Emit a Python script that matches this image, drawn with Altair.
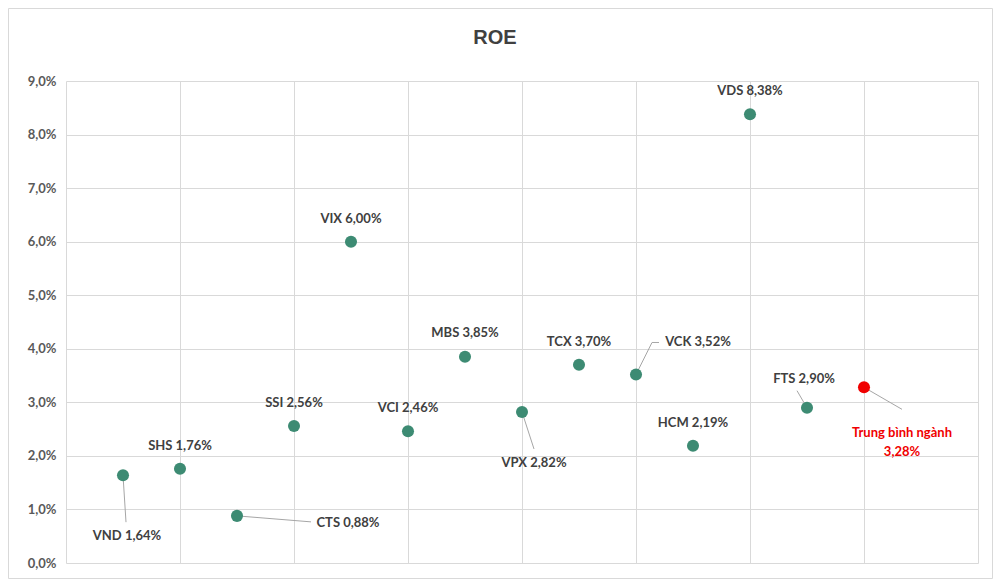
import altair as alt
import pandas as pd

# ---- data ----
names = ["VND", "SHS", "CTS", "SSI", "VIX", "VCI", "MBS", "VPX", "TCX", "VCK",
         "HCM", "VDS", "FTS", "Trung bình ngành"]
roe = [1.64, 1.76, 0.88, 2.56, 6.00, 2.46, 3.85, 2.82, 3.70, 3.52,
       2.19, 8.38, 2.90, 3.28]
is_average = [False] * 13 + [True]

# ---- layout (pixels) ----
W, H = 912, 482
PAD_L, PAD_T, PAD_R, PAD_B = 58, 73, 15, 16
X_DOMAIN = [0, 16]
Y_DOMAIN = [0, 9]
XPX = W / (X_DOMAIN[1] - X_DOMAIN[0])
YPX = H / (Y_DOMAIN[1] - Y_DOMAIN[0])

# label centre offsets from point, in pixels (dx, dy)
label_off = {
    "VND": (4, 61), "SHS": (0, -23), "CTS": (111, 7), "SSI": (0, -23),
    "VIX": (0, -23), "VCI": (0, -23), "MBS": (0, -24), "VPX": (12, 51),
    "TCX": (0, -23), "VCK": (62, -32), "HCM": (0, -23), "VDS": (0, -23),
    "FTS": (-3, -29), "Trung bình ngành": (38, 46),
}
# leader segments, pixel offsets from point: (dx1, dy1, dx2, dy2)
leaders = {
    "VND": [(0, 0, 3, 47)],
    "CTS": [(0, 0, 74, 6)],
    "VPX": [(0, 0, 12, 37)],
    "VCK": [(0, 0, 16, -32), (16, -32, 23, -32)],
    "FTS": [(-10, -17, -3, -5)],
    "Trung bình ngành": [(0, 0, 38, 22)],
}

GREEN = "#3d8b73"
RED = "#f00000"
TXT = "#404040"

xs = list(range(1, len(names) + 1))


def fmt(v):
    return f"{v:.2f}".replace(".", ",") + "%"


pts = pd.DataFrame({
    "name": names, "x": xs, "y": roe,
    "color": [RED if a else GREEN for a in is_average],
})

lab_rows = []
for n, x, y, a in zip(names, xs, roe, is_average):
    dx, dy = label_off[n]
    text = f"{n}\n{fmt(y)}" if a else f"{n} {fmt(y)}"
    lab_rows.append({"x": x + dx / XPX, "y": y - dy / YPX, "text": text,
                     "color": RED if a else TXT})
labs = pd.DataFrame(lab_rows)

seg_rows = []
for n, x, y in zip(names, xs, roe):
    for (a1, b1, a2, b2) in leaders.get(n, []):
        seg_rows.append({"x": x + a1 / XPX, "y": y - b1 / YPX,
                         "x2": x + a2 / XPX, "y2": y - b2 / YPX})
segs = pd.DataFrame(seg_rows)

xscale = alt.Scale(domain=X_DOMAIN, nice=False, zero=False)
yscale = alt.Scale(domain=Y_DOMAIN, nice=False)

xaxis = alt.Axis(values=list(range(0, 17, 2)), labels=False, ticks=False,
                 domain=False, title=None, gridColor="#d9d9d9", gridWidth=1)
yaxis = alt.Axis(values=list(range(0, 10)), title=None, ticks=False, domain=False,
                 labelExpr="replace(format(datum.value, '.1f'), '.', ',') + '%'",
                 labelFont="Lato", labelFontWeight="bold", labelFontSize=13,
                 labelColor="#595959", labelPadding=10,
                 gridColor="#d9d9d9", gridWidth=1)

points = alt.Chart(pts).mark_circle(size=145, opacity=1).encode(
    x=alt.X("x:Q", scale=xscale, axis=xaxis),
    y=alt.Y("y:Q", scale=yscale, axis=yaxis),
    color=alt.Color("color:N", scale=None),
)

rules = alt.Chart(segs).mark_rule(color="#a6a6a6", strokeWidth=1).encode(
    x=alt.X("x:Q", scale=xscale), y=alt.Y("y:Q", scale=yscale),
    x2="x2:Q", y2="y2:Q",
)

labels = alt.Chart(labs).mark_text(
    font="Lato", fontWeight="bold", fontSize=13, lineBreak="\n",
    lineHeight=19, baseline="middle", align="center",
).encode(
    x=alt.X("x:Q", scale=xscale), y=alt.Y("y:Q", scale=yscale),
    text="text:N", color=alt.Color("color:N", scale=None),
)

title = alt.Chart(pd.DataFrame({"t": ["ROE"]})).mark_text(
    font="Liberation Sans", fontWeight="bold", fontSize=20, color=TXT,
    baseline="middle", align="center",
).encode(x=alt.value(495 - 66), y=alt.value(38 - 81), text="t:N")

border = alt.Chart(pd.DataFrame({"a": [0]})).mark_rect(
    fillOpacity=0, stroke="#d9d9d9", strokeWidth=1,
).encode(
    x=alt.value(-PAD_L + 0.5), x2=alt.value(W + PAD_R - 0.5),
    y=alt.value(-PAD_T + 0.5), y2=alt.value(H + PAD_B - 0.5),
)

chart = alt.layer(border, rules, points, labels, title).properties(
    width=W, height=H,
    autosize=alt.AutoSizeParams(type="none"),
    padding={"left": PAD_L, "top": PAD_T, "right": PAD_R, "bottom": PAD_B},
    background="white",
).configure_view(stroke=None)

chart.save("out.html", embed_options={"renderer": "svg", "actions": False})
